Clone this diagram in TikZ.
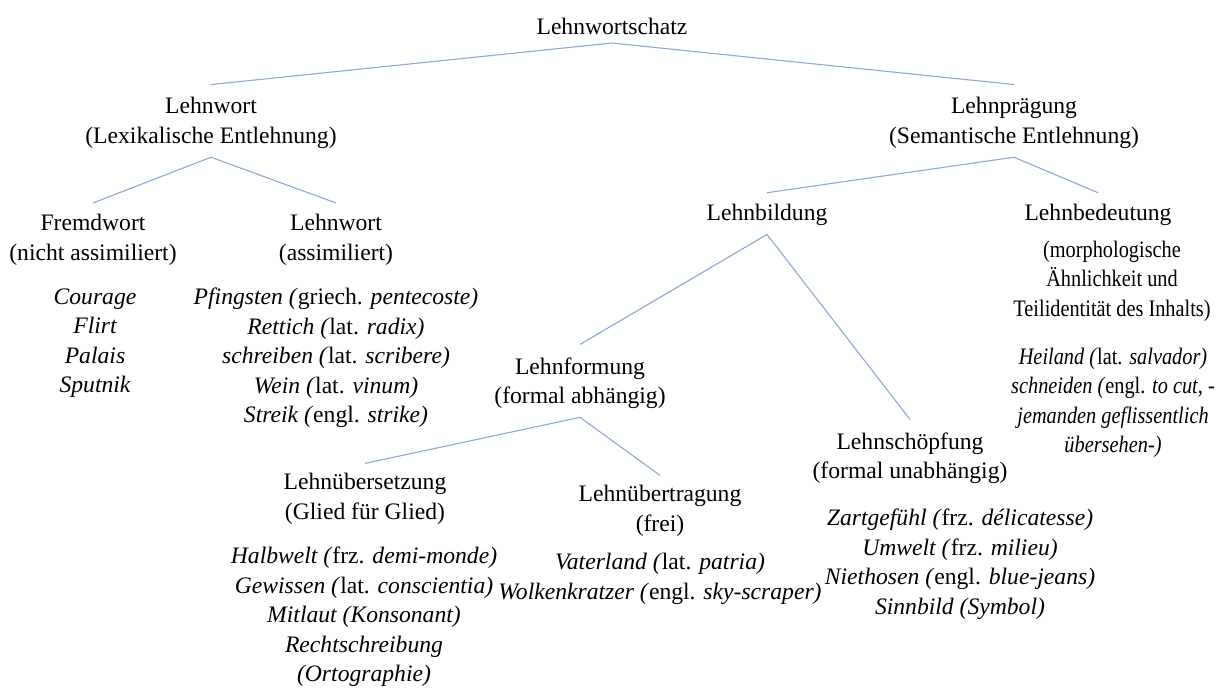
\documentclass[tikz,border=0pt]{standalone}
\usepackage{fontspec}
\setmainfont{Liberation Serif}
\newfontfamily\narrowserif{Liberation Serif}[FakeStretch=0.86]
\definecolor{lnBlue}{HTML}{8EAADB}
\newcommand{\spr}[1]{\textup{#1}}

\begin{document}
\begin{tikzpicture}[x=0.025cm, y=-0.025cm,
  term/.style={align=center, inner sep=0pt,
               font=\fontsize{16.8}{21}\selectfont},
  ex/.style={term, font=\fontsize{16.8}{21}\selectfont\itshape},
  narrow/.style={term, font=\fontsize{16.8}{21}\selectfont\narrowserif},
  branch/.style={draw=lnBlue, line width=0.8pt}]

  \useasboundingbox (0,0) rectangle (1222,688);

  \node[term] (root) at (612,26) {Lehnwortschatz};

  % lexikalisch
  \node[term] (lw)  at (211,123) {Lehnwort\\(Lexikalische Entlehnung)};
  \node[term] (fw)  at (93,240)  {Fremdwort\\(nicht assimiliert)};
  \node[term] (lwa) at (336,240) {Lehnwort\\(assimiliert)};
  \node[ex] (fwex)  at (95,343)  {Courage\\Flirt\\Palais\\Sputnik};
  \node[ex] (lwaex) at (336,358) {Pfingsten (\spr{griech.} pentecoste)\\
    Rettich (\spr{lat.} radix)\\schreiben (\spr{lat.} scribere)\\
    Wein (\spr{lat.} vinum)\\Streik (\spr{engl.} strike)};

  % semantisch
  \node[term] (lp)  at (1014,123) {Lehnprägung\\(Semantische Entlehnung)};
  \node[term] (lb)  at (767,215)  {Lehnbildung};
  \node[term] (lbd) at (1098,215) {Lehnbedeutung};
  \node[narrow] (lbdtxt) at (1112,281) {(morphologische\\Ähnlichkeit und\\
    Teilidentität des Inhalts)};
  \node[narrow, font=\fontsize{16.8}{21}\selectfont\narrowserif\itshape]
    (lbdex) at (1113,403) {Heiland (\spr{lat.} salvador)\\
    schneiden (\spr{engl.} to cut, -\\jemanden geflissentlich\\übersehen-)};

  \node[term] (lf)  at (580,383) {Lehnformung\\(formal abhängig)};
  \node[term] (ls)  at (910,458) {Lehnschöpfung\\(formal unabhängig)};
  \node[ex] (lsex)  at (960,564) {Zartgefühl (\spr{frz.} délicatesse)\\
    Umwelt (\spr{frz.} milieu)\\Niethosen (\spr{engl.} blue-jeans)\\
    Sinnbild (Symbol)};

  \node[term] (lue) at (365,499) {Lehnübersetzung\\(Glied für Glied)};
  \node[ex] (lueex) at (364,617) {Halbwelt (\spr{frz.} demi-monde)\\
    Gewissen (\spr{lat.} conscientia)\\Mitlaut (Konsonant)\\
    Rechtschreibung\\(Ortographie)};
  \node[term] (lut) at (660,511) {Lehnübertragung\\(frei)};
  \node[ex] (lutex) at (660,579) {Vaterland (\spr{lat.} patria)\\
    Wolkenkratzer (\spr{engl.} sky-scraper)};

  \foreach \c in {lw,lp}{
    \draw[branch] ([yshift=-6pt]root.south) -- ([yshift=9pt]\c.north);}
  \foreach \c in {fw,lwa}{
    \draw[branch] ([yshift=-6pt]lw.south) -- ([yshift=8pt]\c.north);}
  \foreach \c in {lb,lbd}{
    \draw[branch] ([yshift=-6pt]lp.south) -- ([yshift=8pt]\c.north);}
  \foreach \c in {lf,ls}{
    \draw[branch] ([yshift=-6pt]lb.south) -- ([yshift=9pt]\c.north);}
  \foreach \c in {lue,lut}{
    \draw[branch] ([yshift=-6pt]lf.south) -- ([yshift=7pt]\c.north);}
\end{tikzpicture}
\end{document}
